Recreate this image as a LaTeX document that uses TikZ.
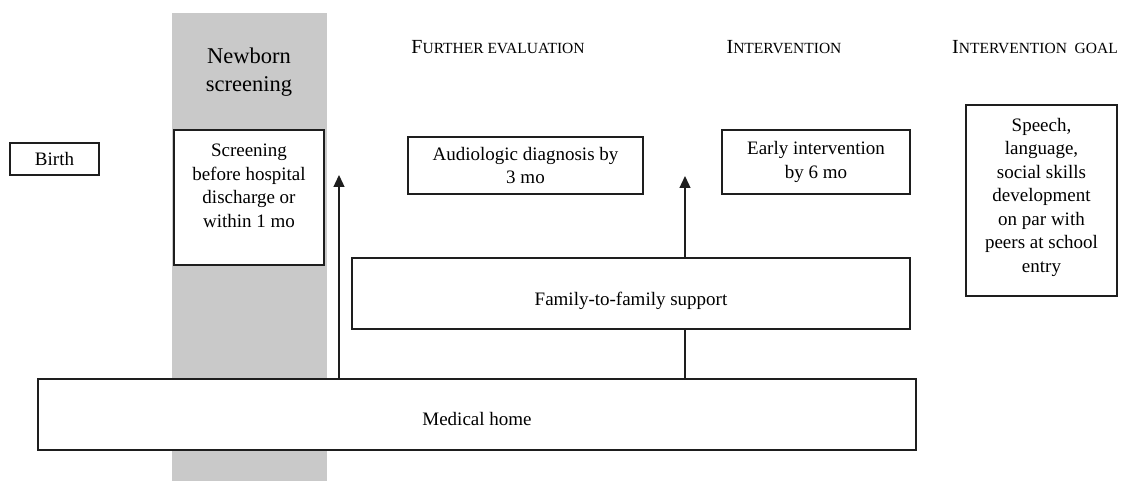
\documentclass[tikz,border=0pt]{standalone}
\usepackage{fontspec}
\setmainfont{Liberation Serif}
\usetikzlibrary{arrows.meta}
\definecolor{bandgray}{RGB}{201,201,201}
\definecolor{inkline}{RGB}{30,30,30}
% faked small capitals: first letter full size, rest in reduced capitals
\newcommand{\capsmall}[2]{{\fontsize{20}{24}\selectfont #1}{\fontsize{15.5}{20}\selectfont #2}}
\begin{document}
\begin{tikzpicture}[x=1pt,y=-1pt,
  box/.style={draw=inkline, line width=1.1pt, fill=white, inner sep=0pt,
              align=center, font=\fontsize{19}{23.5}\selectfont},
  heading/.style={anchor=base, inner sep=0pt},
  link/.style={draw=inkline, line width=1.3pt},
  uparrow/.style={link, -{Triangle[length=12pt,width=11pt]}}]

\useasboundingbox (0,0) rectangle (1126,481);

% shaded column behind the screening stage
\fill[bandgray] (172,13) rectangle (327,481);

% column headings
\node[inner sep=0pt, align=center, font=\fontsize{22.5}{28}\selectfont] (hscreen) at (249,72) {Newborn\\screening};
\node[heading] (heval) at (498,54) {\capsmall{F}{URTHER EVALUATION}};
\node[heading] (hinter) at (784,54) {\capsmall{I}{NTERVENTION}};
\node[heading] (hgoal) at (1035,54) {\capsmall{I}{NTERVENTION\ \ GOAL}};

% stage boxes
\node[box, minimum width=89pt, minimum height=32pt] (birth) at (54.5,159) {Birth};
\node[box, minimum width=150pt, minimum height=135pt] (screen) at (249,197.5)
  {\parbox[c][135pt][t]{150pt}{\centering\vspace*{14pt}Screening\\before hospital\\discharge or\\within 1 mo}};
\node[box, minimum width=235pt, minimum height=57pt] (audio) at (525.5,165.5) {Audiologic diagnosis by\\3 mo};
\node[box, minimum width=188pt, minimum height=64pt] (early) at (816,162) {Early intervention\\by 6 mo};
\node[box, minimum width=151pt, minimum height=191pt] (goal) at (1041.5,200.5)
  {\parbox[c][191pt][t]{151pt}{\centering\vspace*{13pt}Speech,\\language,\\social skills\\development\\on par with\\peers at school\\entry}};

% support layers (text sits a little below the middle of each bar)
\node[box, minimum width=558pt, minimum height=71pt, text height=23pt, text depth=0pt] (family) at (631,293.5) {Family-to-family support};
\node[box, minimum width=878pt, minimum height=71pt, text height=21pt, text depth=0pt] (medical) at (477,414.5) {Medical home};

% connectors
\coordinate (tipA) at (339,175);
\coordinate (tipB) at (685,176);
\draw[uparrow] (medical.north -| tipA) -- (tipA);
\draw[link] (medical.north -| tipB) -- (family.south -| tipB);
\draw[uparrow] (family.north -| tipB) -- (tipB);
\end{tikzpicture}
\end{document}
